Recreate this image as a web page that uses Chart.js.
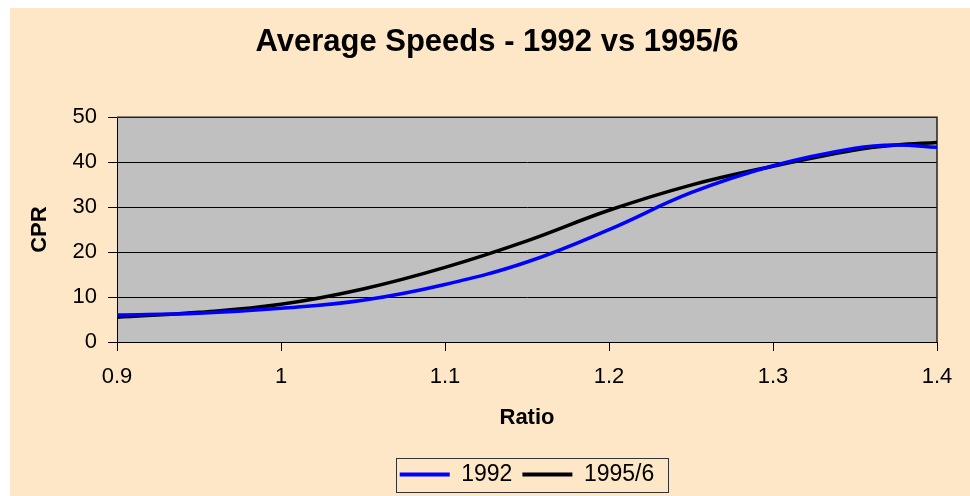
<!DOCTYPE html>
<html lang="en">
<head>
  <meta charset="UTF-8" />
  <title>Average Speeds - 1992 vs 1995/6</title>
  <script src="https://cdn.jsdelivr.net/npm/chart.js"></script>
  <style>
    body { margin: 0; background: #ffffff; }
    #wrap { width: 970px; height: 496px; }
  </style>
</head>
<body>
  <div id="wrap">
    <canvas id="speedChart" width="970" height="496"></canvas>
  </div>

  <script>
    // values
    const ratios = [0.9, 0.95, 1.0, 1.05, 1.1, 1.15, 1.2, 1.25, 1.3, 1.35, 1.375, 1.4];
    const cpr1992 = [6.0, 6.4, 7.5, 9.3, 12.8, 17.8, 25.0, 33.2, 39.2, 43.1, 43.8, 43.3];
    const cpr1995 = [5.5, 6.6, 8.4, 11.8, 16.6, 22.5, 29.3, 34.9, 39.1, 42.7, 43.8, 44.4];
    const yTicks = [0, 10, 20, 30, 40, 50];
    const xTicks = [0.9, 1.0, 1.1, 1.2, 1.3, 1.4];

    Chart.defaults.font.family = "'Liberation Sans', Arial, sans-serif";
    Chart.defaults.color = '#000';

    const toPoints = vals => ratios.map((r, i) => ({ x: r, y: vals[i] }));

    // beige frame, grey plot area and its border, box round the legend
    const framePlugin = {
      id: 'frame',
      beforeDraw(chart) {
        const { ctx, chartArea: a } = chart;
        ctx.save();
        ctx.fillStyle = '#ffffff';
        ctx.fillRect(0, 0, chart.width, chart.height);
        ctx.fillStyle = '#FDE7C6';
        ctx.fillRect(10, 8, chart.width - 10, chart.height - 8);
        ctx.fillStyle = '#C0C0C0';
        ctx.fillRect(a.left, a.top, a.right - a.left, a.bottom - a.top);
        ctx.restore();
      },
      beforeDatasetsDraw(chart) {
        const { ctx, chartArea: a } = chart;
        ctx.save();
        ctx.strokeStyle = '#222';
        ctx.lineWidth = 1.5;
        ctx.beginPath();
        ctx.moveTo(a.left, a.top);
        ctx.lineTo(a.right, a.top);
        ctx.lineTo(a.right, a.bottom);
        ctx.stroke();
        ctx.restore();
      },
      afterDraw(chart) {
        const boxes = chart.legend.legendHitBoxes;
        if (!boxes || !boxes.length) return;
        const first = boxes[0], last = boxes[boxes.length - 1];
        const { ctx } = chart;
        ctx.save();
        ctx.strokeStyle = '#333';
        ctx.lineWidth = 1;
        const l = Math.round(first.left - 4) + 0.5;
        const r = Math.round(last.left + last.width + 14) + 0.5;
        const t = Math.round(first.top - 5) + 0.5;
        const b = Math.round(first.top + first.height + 6) + 0.5;
        ctx.strokeRect(l, t, r - l, b - t);
        ctx.restore();
      }
    };

    new Chart(document.getElementById('speedChart'), {
      type: 'line',
      data: {
        datasets: [
          { label: '1992', data: toPoints(cpr1992), borderColor: '#0000FF', backgroundColor: '#0000FF' },
          { label: '1995/6', data: toPoints(cpr1995), borderColor: '#000000', backgroundColor: '#000000' }
        ]
      },
      options: {
        responsive: false,
        animation: false,
        layout: { padding: { left: 24, right: 0, top: 0, bottom: 0 } },
        elements: {
          line: { borderWidth: 3.5, tension: 0.4 },
          point: { radius: 0, hoverRadius: 0 }
        },
        plugins: {
          title: {
            display: true,
            text: 'Average Speeds - 1992 vs 1995/6',
            font: { size: 31, weight: 'bold' },
            padding: { top: 24, bottom: 56 }
          },
          legend: {
            position: 'bottom',
            fullSize: false,
            labels: {
              font: { size: 23 },
              padding: 10,
              usePointStyle: true,
              pointStyle: 'line',
              pointStyleWidth: 50,
              generateLabels: chart => chart.data.datasets.map((ds, i) => ({
                text: ds.label,
                strokeStyle: ds.borderColor,
                fillStyle: ds.borderColor,
                lineWidth: 4,
                pointStyle: 'line',
                datasetIndex: i
              }))
            }
          },
          tooltip: { enabled: false }
        },
        scales: {
          x: {
            type: 'linear',
            min: 0.9,
            max: 1.4,
            afterBuildTicks: s => { s.ticks = xTicks.map(v => ({ value: v })); },
            afterFit: s => { s.height = 111; },
            ticks: {
              font: { size: 22 },
              padding: 13,
              callback: v => String(Math.round(v * 10) / 10)
            },
            grid: { drawOnChartArea: false, color: '#000', tickLength: 9 },
            border: { color: '#000', width: 1 },
            title: {
              display: true,
              text: 'Ratio',
              font: { size: 22, weight: 'bold' },
              padding: { top: 0, bottom: 22 }
            }
          },
          y: {
            position: 'left',
            min: 0,
            max: 50,
            afterBuildTicks: s => { s.ticks = yTicks.map(v => ({ value: v })); },
            afterFit: s => { s.width = 93; },
            ticks: { font: { size: 22 }, padding: 11 },
            grid: { color: '#000', tickLength: 9 },
            border: { color: '#000', width: 1 },
            title: {
              display: true,
              text: 'CPR',
              font: { size: 22, weight: 'bold' },
              padding: { top: 3, bottom: 0 }
            }
          },
          spacer: {
            position: 'right',
            display: true,
            ticks: { display: false },
            grid: { display: false },
            border: { display: false },
            afterFit: s => { s.width = 33; }
          }
        }
      },
      plugins: [framePlugin]
    });
  </script>
</body>
</html>
